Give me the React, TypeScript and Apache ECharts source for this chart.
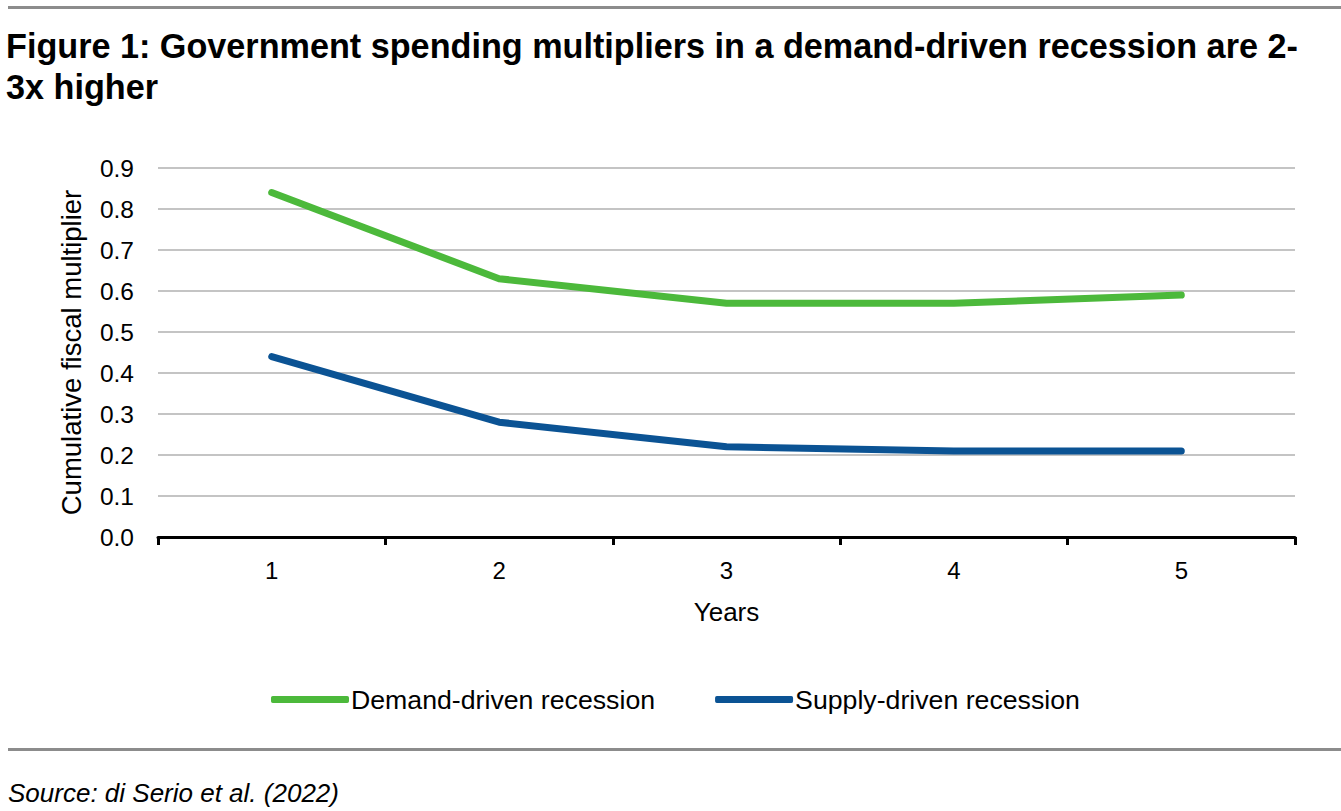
import React, { useEffect, useRef } from "react";
import * as echarts from "echarts";

const years = ["1", "2", "3", "4", "5"];
const demandDriven = [0.84, 0.63, 0.57, 0.57, 0.59];
const supplyDriven = [0.44, 0.28, 0.22, 0.21, 0.21];
const seriesNames = ["Demand-driven recession", "Supply-driven recession"];
const titleText = "Figure 1: Government spending multipliers in a demand-driven recession are 2-\n3x higher";
const sourceText = "Source: di Serio et al. (2022)";

const FONT = "'Liberation Sans', Arial, Helvetica, sans-serif";

export default function App() {
  const ref = useRef<HTMLDivElement>(null);
  useEffect(() => {
    if (!ref.current) return;
    const chart = echarts.init(ref.current, null, { renderer: "svg" });
    chart.setOption({
      animation: false,
      backgroundColor: "#ffffff",
      textStyle: { fontFamily: FONT },
      title: {
        text: titleText,
        left: 1,
        top: 20,
        textStyle: { fontFamily: FONT, fontSize: 34.2, fontWeight: "bold", color: "#000", lineHeight: 41 },
      },
      graphic: [
        { type: "rect", shape: { x: 8, y: 6, width: 1333, height: 3 }, style: { fill: "#8c8c8c" } },
        { type: "rect", shape: { x: 8, y: 748, width: 1333, height: 3 }, style: { fill: "#8c8c8c" } },
        {
          type: "text",
          left: 8,
          top: 780,
          style: { text: sourceText, fontFamily: FONT, fontSize: 26, fontStyle: "italic", fill: "#000" },
        },
      ],
      legend: {
        left: 266,
        top: 681,
        itemWidth: 78,
        itemHeight: 7,
        itemGap: 60,
        icon: "roundRect",
        textStyle: { fontFamily: FONT, fontSize: 26.7, color: "#000", padding: [0, 0, 0, -3] },
        data: seriesNames,
      },
      grid: { left: 158, right: 46, top: 168, bottom: 274 },
      xAxis: {
        type: "category",
        data: years,
        boundaryGap: true,
        name: "Years",
        nameLocation: "middle",
        nameGap: 62,
        nameTextStyle: { fontFamily: FONT, fontSize: 26, color: "#000" },
        axisLine: { lineStyle: { color: "#000", width: 3 } },
        axisTick: { show: true, length: 8, lineStyle: { color: "#000", width: 3 } },
        axisLabel: { fontFamily: FONT, fontSize: 24, color: "#000", margin: 21 },
        splitLine: { show: false },
      },
      yAxis: {
        type: "value",
        min: 0,
        max: 0.9,
        interval: 0.1,
        name: "Cumulative fiscal multiplier",
        nameLocation: "middle",
        nameGap: 73,
        nameTextStyle: { fontFamily: FONT, fontSize: 27.5, color: "#000" },
        axisLine: { show: false },
        axisTick: { show: false },
        axisLabel: {
          fontFamily: FONT,
          fontSize: 24.5,
          color: "#000",
          margin: 24,
          formatter: (v: number) => v.toFixed(1),
        },
        splitLine: { lineStyle: { color: "#b0b0b0", width: 1.5 } },
      },
      series: [
        {
          name: seriesNames[0],
          type: "line",
          data: demandDriven,
          symbol: "none",
          itemStyle: { color: "#4cb93b" },
          lineStyle: { color: "#4cb93b", width: 7, cap: "round", join: "round" },
        },
        {
          name: seriesNames[1],
          type: "line",
          data: supplyDriven,
          symbol: "none",
          itemStyle: { color: "#0b5394" },
          lineStyle: { color: "#0b5394", width: 7, cap: "round", join: "round" },
        },
      ],
    });
    return () => chart.dispose();
  }, []);
  return (
    <div
      ref={ref}
      style={{ position: "absolute", left: 0, top: 0, width: 1341, height: 811, background: "#fff" }}
    />
  );
}
